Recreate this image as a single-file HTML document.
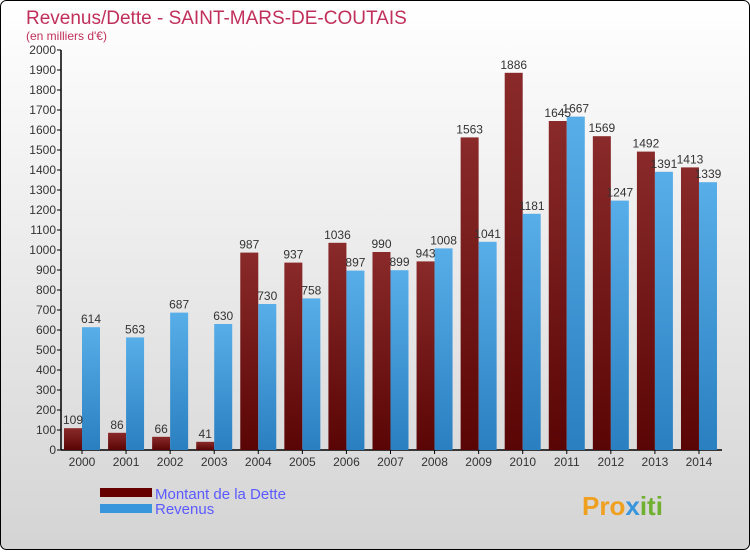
<!DOCTYPE html>
<html><head><meta charset="utf-8"><style>
body{margin:0;width:750px;height:550px;overflow:hidden;font-family:"Liberation Sans",sans-serif}
</style></head><body>
<svg id="c" width="750" height="550" xmlns="http://www.w3.org/2000/svg">
<defs>
<linearGradient id="bg" x1="0" y1="0" x2="0" y2="1"><stop offset="0" stop-color="#ffffff"/><stop offset="1" stop-color="#d4d4d4"/></linearGradient>
<linearGradient id="gd" x1="0" y1="0" x2="0" y2="1"><stop offset="0" stop-color="#8a2a2a"/><stop offset="1" stop-color="#5a0505"/></linearGradient>
<linearGradient id="gr" x1="0" y1="0" x2="0" y2="1"><stop offset="0" stop-color="#58aee8"/><stop offset="1" stop-color="#2a7fc0"/></linearGradient>
</defs>
<rect x="0.5" y="0.5" width="749" height="549" rx="6" fill="url(#bg)" stroke="#000"/>
<text x="26" y="24" font-size="19" fill="#c0305a">Revenus/Dette - SAINT-MARS-DE-COUTAIS</text>
<text x="26" y="40" font-size="12" fill="#c0305a">(en milliers d'€)</text>
<g id="axes"></g>
<g id="bars"></g>
<rect x="100" y="488" width="52" height="9" fill="#600"/>
<rect x="100" y="504" width="52" height="9" fill="#3a96dc"/>
<text x="155" y="499" font-size="15" fill="#5a5aff">Montant de la Dette</text>
<text x="155" y="514" font-size="15" fill="#5a5aff">Revenus</text>
<text x="582" y="515" font-size="26" font-weight="bold" fill="#f0a020">Pro<tspan fill="#3a96dc">x</tspan><tspan fill="#70b030">iti</tspan></text>
</svg>
<script>
const years=["2000","2001","2002","2003","2004","2005","2006","2007","2008","2009","2010","2011","2012","2013","2014"];
const dette=[109,86,66,41,987,937,1036,990,943,1563,1886,1645,1569,1492,1413];
const revenus=[614,563,687,630,730,758,897,899,1008,1041,1181,1667,1247,1391,1339];
const yTicks=[0,100,200,300,400,500,600,700,800,900,1000,1100,1200,1300,1400,1500,1600,1700,1800,1900,2000];
const NS="http://www.w3.org/2000/svg";
const x0=61,y0=450,yMax=2000,plotH=400,step=44.07,bw=18;
const Y=v=>y0-v/yMax*plotH;
const XC=i=>82+i*step;
function mk(t,a,p){const e=document.createElementNS(NS,t);for(const k in a)e.setAttribute(k,a[k]);p.appendChild(e);return e;}
const ax=document.getElementById('axes'),bg=document.getElementById('bars');
let l=mk('line',{x1:x0,y1:Y(yMax),x2:x0,y2:y0,stroke:'#000','stroke-width':1.5},ax);


l=mk('line',{x1:x0,y1:y0,x2:722,y2:y0,stroke:'#000','stroke-width':1.5},ax);


yTicks.forEach(v=>{
 const t=mk('line',{x1:x0-4,y1:Y(v),x2:x0,y2:Y(v),stroke:'#000'},ax);
 
 
 const tx=mk('text',{x:x0-5,y:Y(v)+4,'font-size':12,'text-anchor':'end',fill:'#333'},ax);
 tx.textContent=v;
 
 
});
years.forEach((yr,i)=>{
 const c=XC(i);
 const t=mk('line',{x1:c,y1:y0,x2:c,y2:y0+4,stroke:'#000'},ax);
 
 
 const tx=mk('text',{x:c,y:466,'font-size':12,'text-anchor':'middle',fill:'#333'},ax);
 tx.textContent=yr;
 
 
 const b1=mk('rect',{x:c-bw,y:Y(dette[i]),width:bw,height:y0-Y(dette[i]),fill:'url(#gd)'},bg);
 
 
 const b2=mk('rect',{x:c,y:Y(revenus[i]),width:bw,height:y0-Y(revenus[i]),fill:'url(#gr)'},bg);
 
 
 const l1=mk('text',{x:c-bw/2,y:Y(dette[i])-4,'font-size':12,'text-anchor':'middle',fill:'#333'},bg);
 l1.textContent=dette[i];
 
 
 const l2=mk('text',{x:c+bw/2,y:Y(revenus[i])-4,'font-size':12,'text-anchor':'middle',fill:'#333'},bg);
 l2.textContent=revenus[i];
 
 
});
</script>
</body></html>
